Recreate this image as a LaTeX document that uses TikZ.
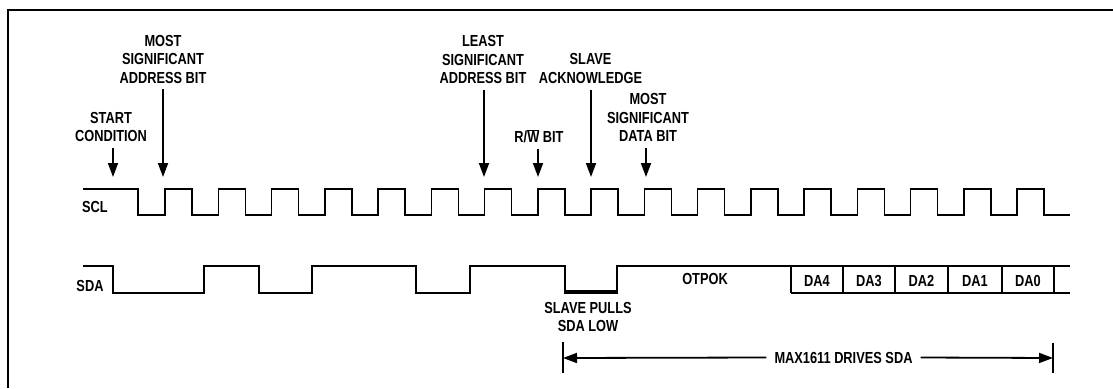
\documentclass[tikz,border=0pt]{standalone}
\usepackage{fontspec}
\newfontfamily\lblfamily[FakeStretch=0.8]{Liberation Sans}
\usetikzlibrary{arrows.meta}
\newcommand{\lblfont}{\lblfamily\bfseries\fontsize{16}{18.5}\selectfont}
\tikzset{
  lbl/.style={font=\lblfont, align=center, inner sep=0pt, text depth=0pt},
  wave/.style={line width=1.5pt, line join=miter},
  arr/.style={-{Triangle[length=14pt, width=10pt]}, line width=1.8pt, shorten <=6pt},
  endmark/.style={line width=1.5pt}}

\begin{document}
\begin{tikzpicture}[x=1pt, y=-1pt]
\useasboundingbox (0,0) rectangle (1113,388);
% frame
\draw[line width=2.2pt] (8,388) -- (8,10) -- (1113,10);

% labels above SCL
\node[lbl] (start) at (111,127) {START\\CONDITION};
\node[lbl] (msaddr) at (163,59) {MOST\\SIGNIFICANT\\ADDRESS BIT};
\node[lbl] (lsaddr) at (483,59.5) {LEAST\\SIGNIFICANT\\ADDRESS BIT};
\node[lbl] (rw) at (539,136) {R/$\overline{\hbox{W}}$ BIT};
\node[lbl] (ack) at (590.5,68.5) {SLAVE\\ACKNOWLEDGE};
\node[lbl] (msdata) at (648,117.5) {MOST\\SIGNIFICANT\\DATA BIT};
\coordinate (pstart) at (113,177);
\coordinate (pmsa) at (163,177);
\coordinate (plsa) at (484,177);
\coordinate (prw) at (538,177);
\coordinate (pack) at (591,177);
\coordinate (pmsd) at (646,177);
\draw[arr] (start.south -| pstart) -- (pstart);
\draw[arr] (msaddr.south -| pmsa) -- (pmsa);
\draw[arr] (lsaddr.south -| plsa) -- (plsa);
\draw[arr] (rw.south -| prw) -- (prw);
\draw[arr] (ack.south -| pack) -- (pack);
\draw[arr] (msdata.south -| pmsd) -- (pmsd);

% SCL
\node[lbl] (scl) at (95,207) {SCL};
\draw[wave] (83,189) -- (138,189) -- (138,215)
  foreach \k in {0,...,16} {
    -- ({165+53.25*\k},215) -- ({165+53.25*\k},189)
    -- ({192+53.25*\k},189) -- ({192+53.25*\k},215)}
  -- (1070,215);

% SDA
\node[lbl] (sda) at (90,285.5) {SDA};
\draw[wave] (83,266) -- (113,266) -- (113,293) -- (204,293) -- (204,266)
  -- (259,266) -- (259,293) -- (312,293) -- (312,266) -- (416,266)
  -- (416,293) -- (470,293) -- (470,266) -- (565,266) -- (565,293)
  -- (617,293) -- (617,266) -- (1070,266);
\draw[line width=3.6pt] (565,292) -- (617,292);
\draw[wave] (791,293) -- (1070,293);
\foreach \x in {791,843,895,948,1002,1054}
  \draw[wave] (\x,266) -- (\x,293);
\node[lbl] (otpok) at (705,278.5) {OTPOK};
\node[lbl] (da4) at (817,280.5) {DA4};
\node[lbl] (da3) at (869,280.5) {DA3};
\node[lbl] (da2) at (921.5,280.5) {DA2};
\node[lbl] (da1) at (975,280.5) {DA1};
\node[lbl] (da0) at (1028,280.5) {DA0};

% below SDA
\node[lbl] (pull) at (588,317) {SLAVE PULLS\\SDA LOW};
\node[lbl, inner xsep=8pt] (drives) at (843.5,357.5) {MAX1611 DRIVES SDA};
\coordinate (drvL) at (563,358);
\coordinate (drvR) at (1053,358);
\draw[endmark] (drvL) ++(0,-16) -- ++(0,31);
\draw[endmark] (drvR) ++(0,-15) -- ++(0,30);
\draw[arr, shorten <=0pt] (drives.west) -- (drvL);
\draw[arr, shorten <=0pt] (drives.east) -- (drvR);
\end{tikzpicture}
\end{document}
